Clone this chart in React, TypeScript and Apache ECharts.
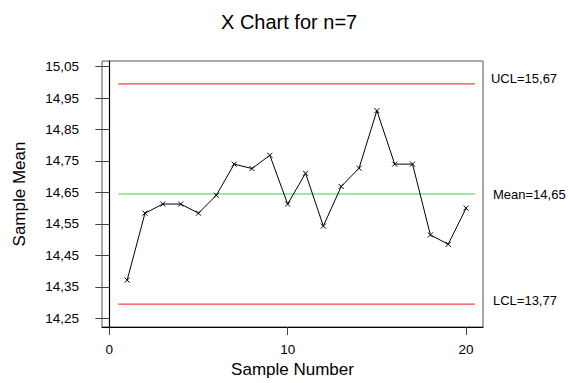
import React, { useEffect, useRef } from "react";
import * as echarts from "echarts";

const sampleNumbers = [1, 2, 3, 4, 5, 6, 7, 8, 9, 10, 11, 12, 13, 14, 15, 16, 17, 18, 19, 20];
const sampleMeans = [
  14.371, 14.584, 14.613, 14.613, 14.584, 14.641, 14.740, 14.726, 14.768, 14.613,
  14.711, 14.543, 14.669, 14.727, 14.910, 14.740, 14.740, 14.515, 14.485, 14.600,
];
const limitValues = [14.995, 14.645, 14.295]; // UCL, Mean, LCL line positions
const limitLabels = ["UCL=15,67", "Mean=14,65", "LCL=13,77"];
const limitColors = ["#ff4040", "#33dd33", "#ff4040"];
const limitSpan = [0.5, 20.5];
const yTicks = [14.25, 14.35, 14.45, 14.55, 14.65, 14.75, 14.85, 14.95, 15.05];
const xTicks = [0, 10, 20];

const FONT = "Liberation Sans, Arial, sans-serif";

export default function App() {
  const ref = useRef<HTMLDivElement>(null);
  useEffect(() => {
    if (!ref.current) return;
    const chart = echarts.init(ref.current, null, { renderer: "svg" });
    const labelOffsets = [[16, -5], [18, 0], [18, -4]];
    const limitSeries = limitValues.map((v, i) => ({
      type: "line",
      data: [
        [limitSpan[0], v],
        [limitSpan[1], v],
      ],
      showSymbol: false,
      symbol: "none",
      lineStyle: { color: limitColors[i], width: 1.2 },
      endLabel: {
        show: true,
        distance: labelOffsets[i][0],
        offset: [0, labelOffsets[i][1]],
        formatter: () => limitLabels[i],
        color: "#000",
        fontSize: 13,
        fontFamily: FONT,
      },
      silent: true,
      z: 1,
    }));
    chart.setOption({
      animation: false,
      backgroundColor: "#fff",
      title: {
        text: "X Chart for n=7",
        left: 216,
        top: 7,
        textStyle: { fontSize: 20, fontWeight: "normal", color: "#000", fontFamily: FONT },
      },
      grid: {
        left: 102,
        top: 61,
        right: 85,
        bottom: 56,
        show: true,
        borderColor: "#555",
        borderWidth: 1,
      },
      xAxis: {
        type: "value",
        min: -0.41,
        max: 20.95,
        name: "Sample Number",
        nameLocation: "middle",
        nameGap: 34,
        nameTextStyle: { fontSize: 17, color: "#000", fontFamily: FONT },
        axisLine: { show: true, lineStyle: { color: "#000", width: 1.2 } },
        axisTick: { show: true, length: 8, lineStyle: { color: "#444" }, customValues: xTicks },
        axisLabel: {
          customValues: xTicks,
          margin: 15,
          fontSize: 13.5,
          color: "#000",
          fontFamily: FONT,
        },
        splitLine: { show: false },
      },
      yAxis: {
        type: "value",
        min: 14.222,
        max: 15.068,
        name: "Sample Mean",
        nameLocation: "middle",
        nameGap: 74,
        nameTextStyle: { fontSize: 17, color: "#000", fontFamily: FONT },
        axisLine: { show: true, lineStyle: { color: "#000", width: 1.2 } },
        axisTick: { show: true, length: 14, lineStyle: { color: "#444" }, customValues: yTicks },
        axisLabel: {
          customValues: yTicks,
          margin: 23,
          fontSize: 13.5,
          color: "#000",
          fontFamily: FONT,
          formatter: (v: number) => v.toFixed(2).replace(".", ","),
        },
        splitLine: { show: false },
      },
      series: [
        ...limitSeries,
        {
          type: "line",
          data: sampleNumbers.map((n, i) => [n, sampleMeans[i]]),
          symbol: "path://M0,0L10,10M10,0L0,10",
          symbolSize: 5,
          showAllSymbol: true,
          lineStyle: { color: "#000", width: 1 },
          itemStyle: { color: "#000", borderColor: "#000", borderWidth: 1 },
          z: 3,
        },
      ],
    });
    return () => chart.dispose();
  }, []);
  return (
    <div
      ref={ref}
      style={{ position: "fixed", left: 0, top: 0, width: 568, height: 383 }}
    />
  );
}
